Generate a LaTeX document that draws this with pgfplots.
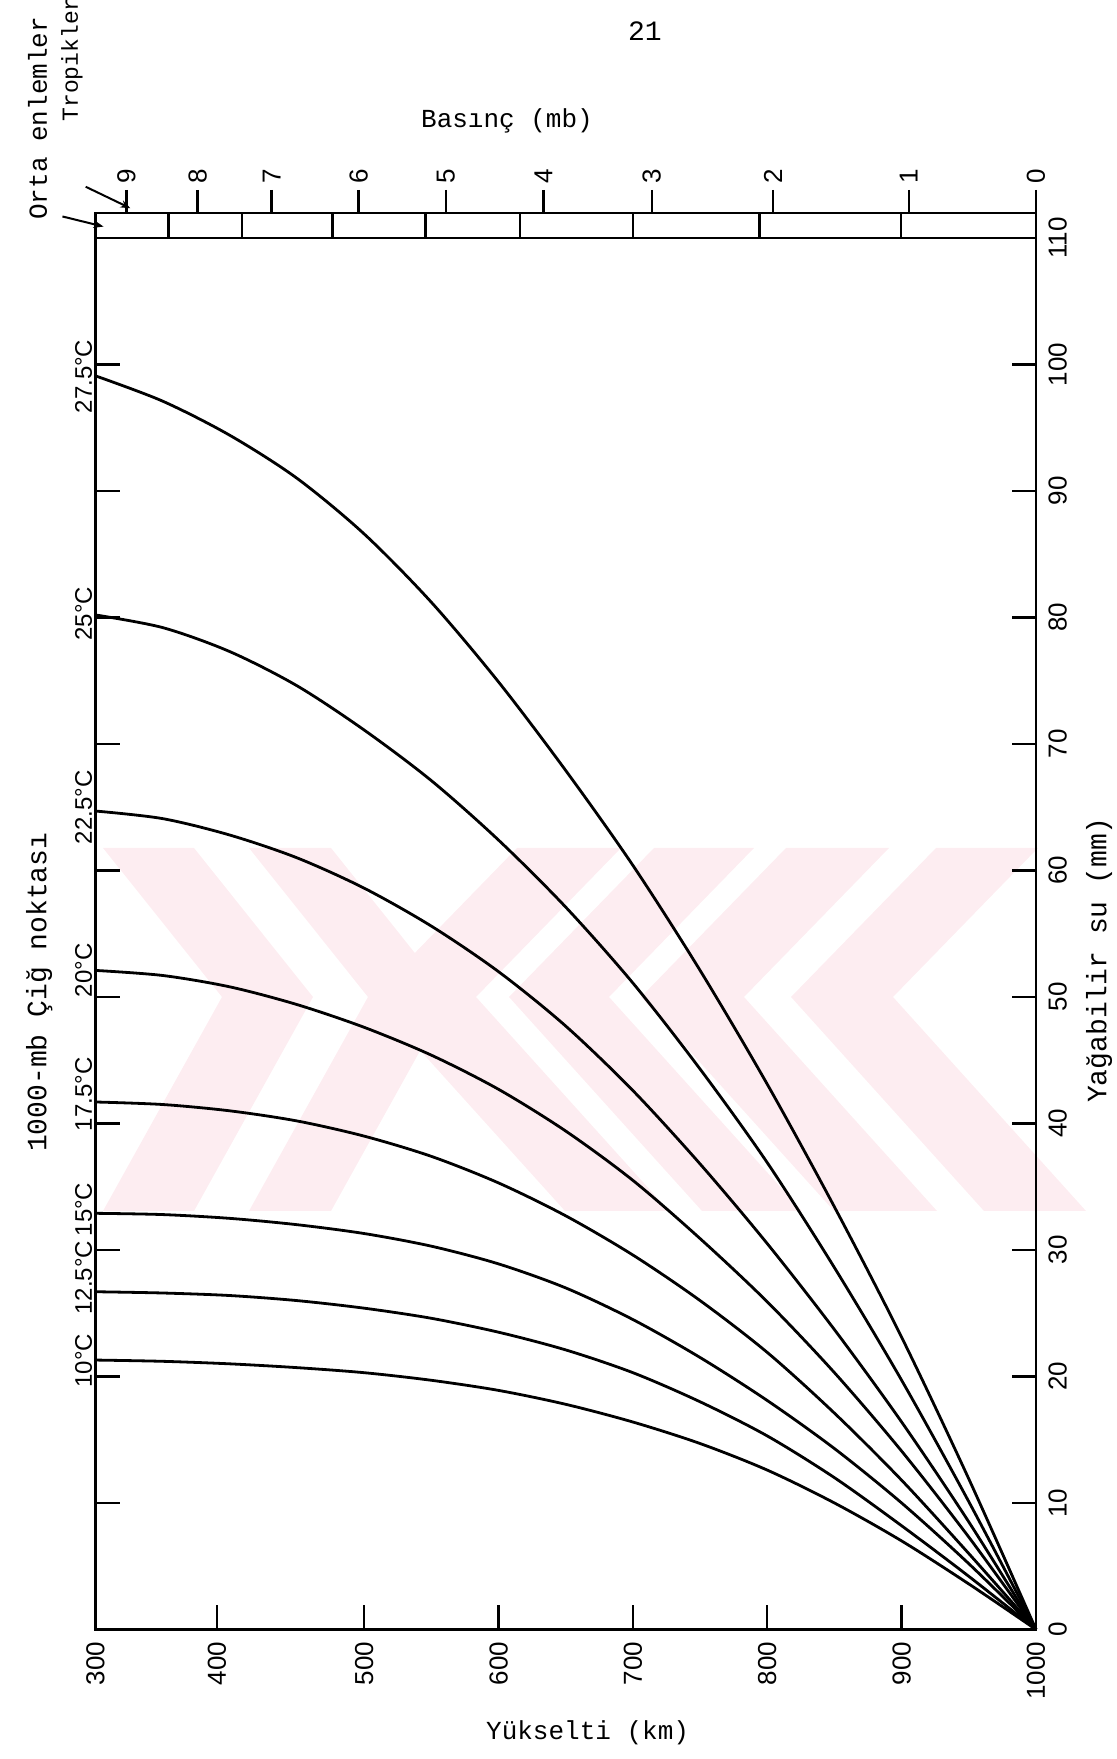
\documentclass[border=0pt]{standalone}
\usepackage{fontspec}
\usepackage{pgfplots}
\pgfplotsset{compat=1.18}
\usetikzlibrary{arrows.meta}
\newfontfamily\mono{Liberation Mono}
\newfontfamily\lsans{Liberation Sans}
\definecolor{wmpink}{RGB}{253,237,241}

% Precipitable water (mm) between 1000 mb and the pressure on the x axis,
% one column per 1000-mb dew point
\pgfplotstableread{
p     t10   t125  t15   t175  t20   t225  t25   t275
300   21.3  26.7  32.9  41.7  52.1  64.7  80.2  99.1
350   21.2  26.6  32.8  41.5  51.7  64.1  79.2  97.1
400   21.0  26.4  32.5  41.0  50.8  62.8  77.3  94.4
450   20.7  26.0  32.0  40.2  49.4  61.0  74.6  91.0
500   20.3  25.4  31.3  39.0  47.6  58.6  71.1  86.6
550   19.7  24.6  30.3  37.4  45.4  55.6  67.1  81.2
600   18.9  23.5  28.9  35.3  42.7  52.0  62.4  74.9
650   17.8  22.1  27.0  32.7  39.4  47.7  57.1  67.9
700   16.4  20.3  24.5  29.6  35.5  42.6  51.1  60.4
750   14.7  18.0  21.5  26.0  30.9  36.8  44.3  52.1
800   12.6  15.3  18.1  21.9  25.9  30.5  36.9  43.1
850   10.0  12.0  14.3  17.1  20.3  23.7  28.6  33.4
900    7.0   8.2  10.0  11.8  14.1  16.4  19.7  23.1
950    3.6   4.2   5.2   6.0   7.3   8.5  10.1  11.9
1000   0.0   0.0   0.0   0.0   0.0   0.0   0.0   0.0
}\pw

\tikzset{curve/.style={line width=1.4pt, black, smooth}}

\begin{document}
\begin{tikzpicture}
\path[use as bounding box] (0pt,0pt) rectangle (558.5pt,879.5pt);

% faint stamp in the background
\begin{scope}[x=1pt, y=1pt, fill=wmpink]
\fill (51.5,455.5) -- (97,455.5) -- (156.5,381) -- (97,274) -- (51.5,274) -- (111,381) -- cycle;
\fill (124.5,455.5) -- (165.5,455.5) -- (225,381) -- (165.5,274) -- (124.5,274) -- (184,381) -- cycle;
\fill (258.5,455.5) -- (310.5,455.5) -- (238,381) -- (334.5,274) -- (282.5,274) -- (186,381) -- cycle;
\fill (327,455.5) -- (377,455.5) -- (304.5,381) -- (401,274) -- (351,274) -- (254.5,381) -- cycle;
\fill (393,455.5) -- (444.5,455.5) -- (372,381) -- (468.5,274) -- (417,274) -- (320.5,381) -- cycle;
\fill (468,455.5) -- (519,455.5) -- (446.5,381) -- (543,274) -- (492,274) -- (395.5,381) -- cycle;
\end{scope}

\begin{axis}[
  at={(47.75pt,64.75pt)}, anchor=south west,
  width=470.25pt, height=695.75pt, scale only axis,
  xmin=300, xmax=1000, ymin=0, ymax=110,
  clip=false,
  axis line style={line width=1.3pt},
  tick style={line width=1.2pt, black},
  tick align=inside,
  major tick length=12pt,
  /pgf/number format/assume math mode=true,
  xtick pos=left,
  xtick={300,390.4,500,600,700,800,900,1000},
  xticklabels={300,400,500,600,700,800,900,1000},
  xticklabel style={rotate=90, anchor=east, inner sep=0pt,
    font=\lsans\fontsize{13}{13}\selectfont},
  xticklabel shift=6pt,
  ytick={0,10,...,110},
  ytick pos=both,
  yticklabel pos=right,
  yticklabel style={rotate=90, anchor=north, inner sep=0pt,
    font=\lsans\fontsize{13}{13}\selectfont},
  yticklabel shift=6pt,
]
\addplot[curve] table[x=p, y=t10]  {\pw};
\addplot[curve] table[x=p, y=t125] {\pw};
\addplot[curve] table[x=p, y=t15]  {\pw};
\addplot[curve] table[x=p, y=t175] {\pw};
\addplot[curve] table[x=p, y=t20]  {\pw};
\addplot[curve] table[x=p, y=t225] {\pw};
\addplot[curve] table[x=p, y=t25]  {\pw};
\addplot[curve] table[x=p, y=t275] {\pw};

% dew-point labels beside the curve starts
\begin{scope}[every node/.style={rotate=90, anchor=south, inner sep=1.5pt,
    font=\lsans\fontsize{12}{12}\selectfont}]
\node at (axis cs:300,21.25) {10°C};
\node at (axis cs:300,27.8)  {12.5°C};
\node at (axis cs:300,33.2)  {15°C};
\node at (axis cs:300,42.3)  {17.5°C};
\node at (axis cs:300,52.1)  {20°C};
\node at (axis cs:300,65.0)  {22.5°C};
\node at (axis cs:300,80.3)  {25°C};
\node at (axis cs:300,99.05) {27.5°C};
\end{scope}

% titles
\node[font=\mono\fontsize{13}{13}\selectfont] at (rel axis cs:0.4375,1.0841) {Basınç (mb)};
\node[font=\mono\fontsize{13}{13}\selectfont] at (rel axis cs:0.5232,-0.0744) {Yükselti (km)};
\node[rotate=90, font=\mono\fontsize{14}{14}\selectfont] at (rel axis cs:-0.0598,0.458) {1000-mb Çiğ noktası};
\node[rotate=90, font=\mono\fontsize{14}{14}\selectfont] at (rel axis cs:1.067,0.4811) {Yağabilir su (mm)};
\node[font=\mono\fontsize{14}{14}\selectfont] at (rel axis cs:0.5842,1.1485) {21};

% scale keys at the top left
\node[rotate=90, anchor=west, inner sep=0pt, font=\mono\fontsize{13}{13}\selectfont]
  at (rel axis cs:-0.0617,1.0129) {Orta enlemler};
\node[rotate=90, anchor=west, inner sep=0pt, font=\mono\fontsize{11.5}{11.5}\selectfont]
  at (rel axis cs:-0.025,1.0834) {Tropikler};
\draw[line width=1pt, -{Stealth[length=5pt]}] (axis cs:275.4,111.7) -- (axis cs:306.0,110.9);
\draw[line width=1pt, -{Stealth[length=5pt]}] (axis cs:292.7,114.05) -- (axis cs:326,112.35);
\end{axis}

% pressure strip above the plot
\begin{axis}[
  at={(47.75pt,760.5pt)}, anchor=south west,
  width=470.25pt, height=12.5pt, scale only axis,
  xmin=300, xmax=1000, ymin=0, ymax=1,
  axis line style={line width=1.3pt},
  ytick=\empty,
  tick style={line width=1.2pt, black},
  xtick pos=right, xticklabel pos=right,
  tick align=outside, major tick length=11.5pt,
  xtick={323.1,376,431.1,495.8,560.7,633.4,714,804.2,905.3,1000},
  xticklabels={9,8,7,6,5,4,3,2,1,0},
  xticklabel style={rotate=90, anchor=west, inner sep=0pt,
    font=\lsans\fontsize{13}{13}\selectfont},
  xticklabel shift=3pt,
  extra x ticks={354.3,409.2,476.3,545.6,616,699.9,794.3,899.5},
  extra x tick labels={},
  extra x tick style={grid=major, tick style={draw=none},
    major grid style={line width=1.2pt, black}},
]
\end{axis}
\end{tikzpicture}
\end{document}
